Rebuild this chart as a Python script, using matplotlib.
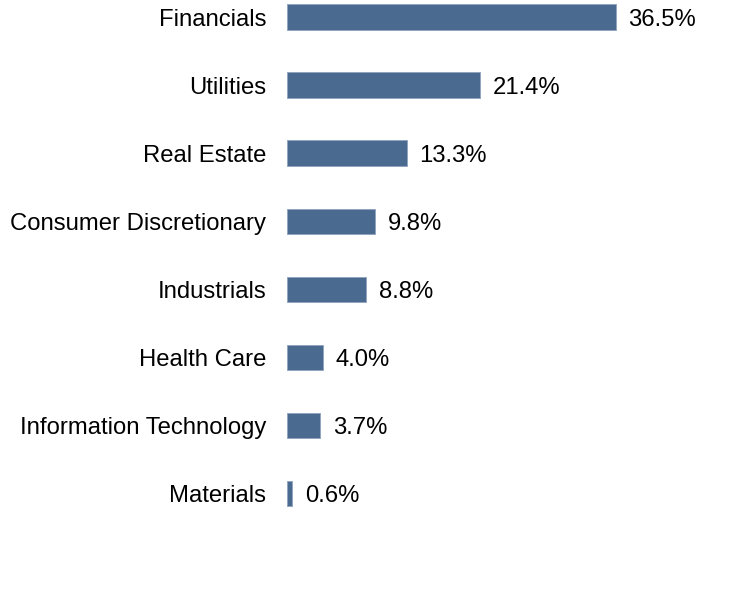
import matplotlib
matplotlib.use("Agg")
from matplotlib import pyplot as plt

sectors = ['Financials', 'Utilities', 'Real Estate', 'Consumer Discretionary',
           'Industrials', 'Health Care', 'Information Technology', 'Materials']
weights = [36.5, 21.4, 13.3, 9.8, 8.8, 4.0, 3.7, 0.6]

plt.rcParams['font.family'] = ['Liberation Sans', 'DejaVu Sans']

fig = plt.figure(figsize=(7.32, 6.0), dpi=100)
ax = fig.add_axes([287 / 732, 0.0, 433 / 732, 1.0])

pos = list(range(len(sectors)))
ax.barh(pos, weights, height=0.37, color='#4a6b8f', edgecolor='#8ea3bd', linewidth=0.6)
for p, w in zip(pos, weights):
  ax.text(w + 1.4, p, f"{w:.1f}%", va='center_baseline', ha='left', fontsize=17.2, color='black')

ax.set_xlim(0, 48.05)
ax.set_ylim(8.57, -0.25)
ax.set_yticks(pos)
ax.set_yticklabels(sectors, fontsize=17.2)
ax.tick_params(axis='y', length=0, pad=15)
ax.set_xticks([])
for s in ax.spines.values():
  s.set_visible(False)

fig.savefig('out.png', dpi=100)
